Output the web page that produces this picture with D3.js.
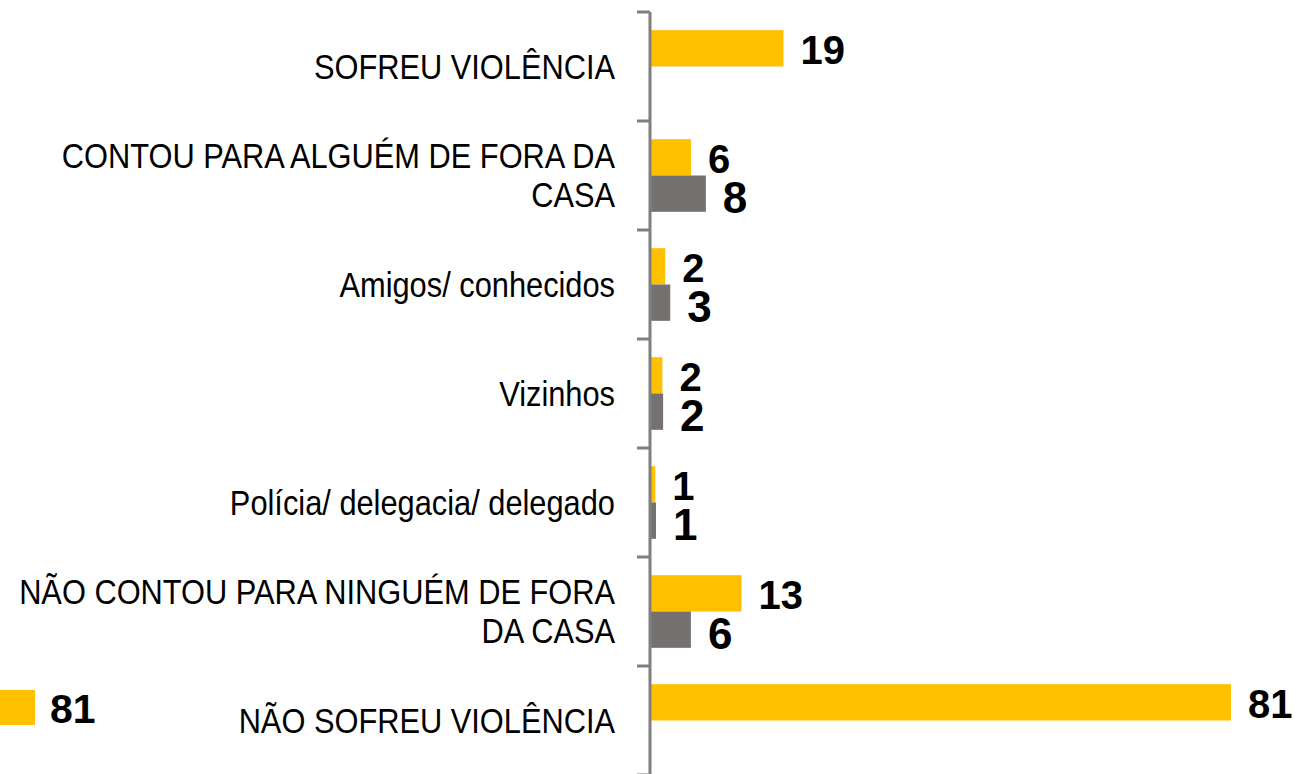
<html>
<head>
<meta charset="utf-8">
<script src="https://cdn.jsdelivr.net/npm/d3@7"></script>
<style>
    body { margin: 0; background: #fff; }
    svg { display: block; }
    .cat { font-family: "Liberation Sans", Arial, sans-serif; font-size: 35px; fill: #000; }
    .val { font-family: "Liberation Sans", Arial, sans-serif; font-weight: bold; fill: #000; }
</style>
</head>
<body>
<svg id="chart"></svg>
<script>
    // categories, top to bottom (lines split where the original wraps)
    let categories = [
        ["SOFREU VIOLÊNCIA"],
        ["CONTOU PARA ALGUÉM DE FORA DA", "CASA"],
        ["Amigos/ conhecidos"],
        ["Vizinhos"],
        ["Polícia/ delegacia/ delegado"],
        ["NÃO CONTOU PARA NINGUÉM DE FORA", "DA CASA"],
        ["NÃO SOFREU VIOLÊNCIA"]
    ]
    // percentages (labels show them rounded)
    let yellowValues = [18.6, 5.6, 2.0, 1.6, 0.6, 12.7, 81.4]
    let grayValues   = [null, 7.7, 2.7, 1.7, 0.7, 5.6, null]
    let legendValue = 81

    let width = 1296, height = 774
    let svg = d3.select("#chart").attr("width", width).attr("height", height)

    let yellow = "#FFC000", gray = "#767171"
    // the original uses a narrow face; squeeze the regular one
    let narrow = 0.88

    let yScale = d3.scaleBand()
        .domain(d3.range(categories.length))
        .range([12, 775])
        .padding(0)

    let inner = d3.scaleBand()
        .domain(["y", "g"])
        .range([0, yScale.bandwidth()])
        .paddingInner(0)
        .paddingOuter(0.5)

    let xScale = d3.scaleLinear()
        .domain([0, 81.4])
        .range([651, 1231])

    let fmt = d3.format(".0f")

    // bars
    let series = [
        { key: "y", values: yellowValues, color: yellow, size: 40, dy: 16 },
        { key: "g", values: grayValues, color: gray, size: 44, dy: 19 }
    ]

    series.forEach(s => {
        let data = s.values.map((v, i) => ({ i, v })).filter(d => d.v != null)
        svg.append("g").selectAll("rect")
            .data(data)
            .enter()
            .append("rect")
            .attr("x", xScale(0))
            .attr("y", d => yScale(d.i) + inner(s.key))
            .attr("width", d => xScale(d.v) - xScale(0))
            .attr("height", inner.bandwidth())
            .attr("fill", s.color)

        svg.append("g").selectAll("text")
            .data(data)
            .enter()
            .append("text")
            .attr("class", "val")
            .style("font-size", s.size + "px")
            .attr("x", d => xScale(d.v) + 17)
            .attr("y", d => yScale(d.i) + inner(s.key) + inner.bandwidth() / 2 + s.dy)
            .text(d => fmt(d.v))
    })

    // axis with ticks on band boundaries
    let axisG = svg.append("g")
        .attr("transform", "translate(650,0)")
    axisG.append("line")
        .attr("y1", 12).attr("y2", 775)
        .attr("stroke", "#7f7f7f").attr("stroke-width", 3)
    axisG.selectAll(".bnd")
        .data(d3.range(categories.length + 1))
        .enter()
        .append("line")
        .attr("x1", -13).attr("x2", 0)
        .attr("y1", i => 12 + i * yScale.step())
        .attr("y2", i => 12 + i * yScale.step())
        .attr("stroke", "#7f7f7f").attr("stroke-width", 3)

    // category labels
    let lineH = 39
    categories.forEach((lines, i) => {
        let cy = yScale(i) + yScale.bandwidth() / 2
        let first = cy - (lines.length - 1) * lineH / 2 + 12
        let t = svg.append("text").attr("class", "cat").attr("text-anchor", "end")
            .attr("transform", `translate(615,${first}) scale(${narrow},1)`)
        lines.forEach((ln, j) => {
            t.append("tspan").attr("x", 0).attr("y", j * lineH).text(ln)
        })
    })

    // stray legend fragment at bottom left
    svg.append("rect").attr("x", 0).attr("y", 690).attr("width", 35).attr("height", 35).attr("fill", yellow)
    svg.append("text").attr("class", "val").style("font-size", "41px")
        .attr("x", 50).attr("y", 723)
        .text(legendValue)
</script>
</body>
</html>
